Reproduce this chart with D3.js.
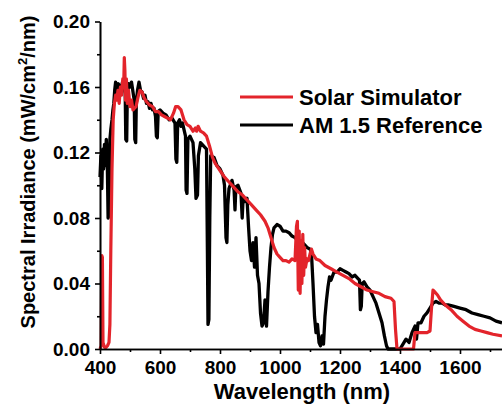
<!DOCTYPE html>
<html>
<head>
<meta charset="utf-8">
<script src="https://cdn.jsdelivr.net/npm/d3@7"></script>
<style>
  body { margin: 0; background: #fff; }
  svg { display: block; font-family: "Liberation Sans", Arial, sans-serif; font-weight: bold; }
</style>
</head>
<body>
<div id="chart"></div>
<script>
// AM 1.5 reference spectrum, [wavelength nm, irradiance mW/cm2/nm]
const amReference = [
  [400, 0.105], [403, 0.118], [406, 0.098], [409, 0.122], [412, 0.110], [415, 0.125],
  [418, 0.112], [421, 0.128], [424, 0.118], [427, 0.080], [430, 0.082], [433, 0.128],
  [436, 0.134], [440, 0.140], [443, 0.146], [446, 0.150], [449, 0.158], [452, 0.163],
  [455, 0.155], [458, 0.160], [461, 0.162], [464, 0.153], [467, 0.161], [470, 0.158],
  [475, 0.163], [480, 0.160], [484, 0.156], [486, 0.128], [489, 0.127], [491, 0.155],
  [495, 0.162], [500, 0.160], [505, 0.163], [510, 0.157], [514, 0.152], [516, 0.128],
  [519, 0.126], [521, 0.150], [525, 0.158], [530, 0.163], [535, 0.158], [540, 0.157],
  [545, 0.153], [550, 0.155], [555, 0.150], [560, 0.151], [565, 0.147], [570, 0.150],
  [575, 0.146], [580, 0.147], [585, 0.142], [588, 0.130], [591, 0.129], [594, 0.145],
  [600, 0.146], [610, 0.144], [620, 0.143], [630, 0.140], [640, 0.141], [650, 0.138],
  [653, 0.116], [656, 0.114], [659, 0.138], [665, 0.140], [670, 0.136], [675, 0.138],
  [680, 0.134], [685, 0.130], [687, 0.097], [690, 0.095], [693, 0.128], [700, 0.130],
  [710, 0.126], [716, 0.110], [720, 0.092], [725, 0.094], [728, 0.118], [735, 0.126],
  [745, 0.124], [755, 0.122], [758, 0.060], [760, 0.015], [763, 0.018], [766, 0.080],
  [769, 0.118], [780, 0.117], [790, 0.112], [800, 0.110], [810, 0.106], [815, 0.100],
  [820, 0.068], [823, 0.065], [826, 0.088], [830, 0.098], [840, 0.103], [847, 0.097],
  [850, 0.085], [853, 0.099], [860, 0.100], [870, 0.095], [874, 0.080], [877, 0.092],
  [882, 0.090], [890, 0.092], [895, 0.075], [900, 0.060],
  [905, 0.054], [910, 0.065], [915, 0.050], [920, 0.068], [925, 0.045], [930, 0.040],
  [935, 0.022], [940, 0.014], [945, 0.016], [950, 0.030], [955, 0.014], [960, 0.035],
  [965, 0.050], [970, 0.062], [975, 0.070], [980, 0.074], [990, 0.076], [1000, 0.075],
  [1010, 0.072], [1020, 0.072], [1030, 0.071], [1040, 0.069], [1050, 0.068], [1060, 0.066],
  [1070, 0.066], [1080, 0.064], [1090, 0.062], [1100, 0.061], [1105, 0.058], [1110, 0.040],
  [1115, 0.020], [1120, 0.010], [1125, 0.015], [1130, 0.004], [1135, 0.002], [1140, 0.008],
  [1145, 0.003], [1150, 0.020], [1155, 0.030], [1160, 0.038], [1165, 0.044], [1170, 0.042],
  [1180, 0.047], [1190, 0.047], [1200, 0.049], [1210, 0.048], [1220, 0.047], [1230, 0.046],
  [1240, 0.044], [1250, 0.045], [1260, 0.043], [1265, 0.042], [1268, 0.024], [1271, 0.026],
  [1274, 0.040], [1280, 0.041], [1290, 0.038], [1300, 0.036], [1310, 0.032], [1320, 0.028],
  [1330, 0.022], [1340, 0.016], [1348, 0.008], [1355, 0.002], [1360, 0.0], [1380, 0.0],
  [1400, 0.0], [1410, 0.003], [1420, 0.006], [1430, 0.004], [1440, 0.010], [1450, 0.014],
  [1455, 0.006], [1460, 0.016], [1470, 0.016], [1480, 0.020], [1490, 0.022], [1500, 0.025],
  [1510, 0.028], [1520, 0.029], [1530, 0.028], [1540, 0.028], [1550, 0.027], [1560, 0.027],
  [1580, 0.026], [1600, 0.025], [1620, 0.024], [1640, 0.022], [1660, 0.021], [1680, 0.020],
  [1700, 0.019], [1720, 0.017], [1740, 0.016]
];

// Solar simulator spectrum
const solarSimulator = [
  [400, 0.0], [404, 0.002], [406, 0.057], [408, 0.056], [410, 0.004], [415, 0.001],
  [420, 0.001], [425, 0.002], [430, 0.004], [433, 0.015], [436, 0.060], [440, 0.110],
  [444, 0.140], [448, 0.150], [452, 0.155], [456, 0.152], [460, 0.158], [464, 0.150],
  [468, 0.160], [472, 0.155], [476, 0.165], [479, 0.160], [481, 0.178], [483, 0.170],
  [485, 0.152], [488, 0.165], [491, 0.150], [495, 0.158], [500, 0.148], [505, 0.152],
  [510, 0.146], [515, 0.147], [520, 0.148], [527, 0.154], [533, 0.158], [540, 0.157],
  [548, 0.153], [555, 0.151], [565, 0.149], [575, 0.148], [585, 0.145], [595, 0.145],
  [605, 0.143], [615, 0.142], [625, 0.141], [635, 0.140], [645, 0.144], [652, 0.148],
  [660, 0.148], [670, 0.146], [680, 0.140], [690, 0.137], [700, 0.136], [710, 0.133],
  [718, 0.135], [722, 0.133], [727, 0.136], [735, 0.133], [745, 0.132], [755, 0.130],
  [765, 0.124], [775, 0.117], [785, 0.113], [800, 0.109], [815, 0.105], [830, 0.102],
  [845, 0.099], [860, 0.096], [875, 0.094], [890, 0.091], [905, 0.088], [920, 0.085],
  [935, 0.082], [950, 0.078], [960, 0.074], [970, 0.068], [980, 0.062], [990, 0.058],
  [1000, 0.056], [1010, 0.054], [1020, 0.054], [1030, 0.053], [1040, 0.055], [1050, 0.054],
  [1055, 0.075], [1058, 0.078], [1061, 0.036], [1064, 0.072], [1067, 0.034], [1070, 0.066],
  [1073, 0.040], [1076, 0.070], [1079, 0.045], [1082, 0.062], [1085, 0.050], [1090, 0.055],
  [1095, 0.054], [1100, 0.058], [1105, 0.061], [1110, 0.058], [1120, 0.055], [1133, 0.054],
  [1150, 0.051], [1170, 0.049], [1190, 0.047], [1210, 0.045], [1230, 0.043], [1250, 0.040],
  [1270, 0.038], [1290, 0.036], [1310, 0.035], [1330, 0.034], [1350, 0.032], [1370, 0.031],
  [1380, 0.029], [1385, 0.012], [1390, 0.0], [1400, 0.0], [1420, 0.0], [1445, 0.0],
  [1450, 0.010], [1470, 0.010], [1490, 0.010], [1500, 0.011], [1505, 0.025], [1510, 0.036],
  [1515, 0.035], [1525, 0.033], [1535, 0.030], [1550, 0.027], [1570, 0.024], [1590, 0.020],
  [1610, 0.017], [1630, 0.014], [1650, 0.012], [1670, 0.011], [1690, 0.010], [1710, 0.009],
  [1740, 0.008]
];

// Tick values
const xMajorTicks = [400, 600, 800, 1000, 1200, 1400, 1600];
const xMinorTicks = [500, 700, 900, 1100, 1300, 1500, 1700];
const yMajorTicks = [0, 0.04, 0.08, 0.12, 0.16, 0.20];
const yMinorTicks = [0.02, 0.06, 0.10, 0.14, 0.18];

const seriesNames = ["Solar Simulator", "AM 1.5 Reference"];
const seriesColors = ["#e3242b", "#000000"];

const width = 502, height = 407;

const svg = d3.select("#chart").append("svg")
  .attr("width", width)
  .attr("height", height);

// Scales (plot is cropped on the right edge)
const x = d3.scaleLinear().domain([400, 1740]).range([100, 502]);
const y = d3.scaleLinear().domain([0, 0.2]).range([349, 21.5]);

const line = d3.line()
  .x(d => x(d[0]))
  .y(d => y(d[1]));

// Spectra: reference underneath, simulator on top
svg.append("path")
  .datum(amReference)
  .attr("fill", "none")
  .attr("stroke", seriesColors[1])
  .attr("stroke-width", 3.3)
  .attr("stroke-linejoin", "round")
  .attr("d", line);

svg.append("path")
  .datum(solarSimulator)
  .attr("fill", "none")
  .attr("stroke", seriesColors[0])
  .attr("stroke-width", 3.2)
  .attr("stroke-linejoin", "round")
  .attr("d", line);

// Axes
const yAxis = svg.append("g")
  .attr("transform", "translate(100,0)")
  .call(d3.axisLeft(y).tickValues(yMajorTicks).tickFormat(d3.format(".2f")).tickSize(5).tickSizeOuter(0));
svg.append("g")
  .attr("transform", "translate(100,0)")
  .call(d3.axisLeft(y).tickValues(yMinorTicks).tickFormat("").tickSize(3).tickSizeOuter(0));

const xAxis = svg.append("g")
  .attr("transform", "translate(0,349)")
  .call(d3.axisBottom(x).tickValues(xMajorTicks).tickFormat(d3.format("d")).tickSize(5).tickSizeOuter(0));
svg.append("g")
  .attr("transform", "translate(0,349)")
  .call(d3.axisBottom(x).tickValues(xMinorTicks).tickFormat("").tickSize(3).tickSizeOuter(0));

svg.selectAll(".domain, .tick line")
  .attr("stroke", "#000")
  .attr("stroke-width", 1.6);

yAxis.selectAll("text")
  .attr("font-size", 19)
  .attr("font-weight", "bold")
  .attr("font-family", "Liberation Sans, Arial, sans-serif")
  .attr("fill", "#000")
  .attr("x", -10);

xAxis.selectAll("text")
  .attr("font-size", 19)
  .attr("font-weight", "bold")
  .attr("font-family", "Liberation Sans, Arial, sans-serif")
  .attr("fill", "#000")
  .attr("y", 12);

// Axis titles
svg.append("text")
  .attr("x", 302)
  .attr("y", 399)
  .attr("text-anchor", "middle")
  .attr("font-size", 22)
  .text("Wavelength (nm)");

const yTitle = svg.append("text")
  .attr("transform", "translate(35,172) rotate(-90)")
  .attr("text-anchor", "middle")
  .attr("font-size", 20);
yTitle.append("tspan").text("Spectral Irradiance (mW/cm");
yTitle.append("tspan").attr("font-size", 13).attr("dy", -8).text("2");
yTitle.append("tspan").attr("dy", 8).text("/nm)");

// Legend
const legend = svg.selectAll(".legend")
  .data(seriesNames)
  .enter().append("g")
  .attr("class", "legend")
  .attr("transform", (d, i) => `translate(240, ${97 + i * 28})`);

legend.append("line")
  .attr("x1", 0)
  .attr("x2", 53)
  .attr("stroke", (d, i) => seriesColors[i])
  .attr("stroke-width", 3.2);

legend.append("text")
  .attr("x", 59)
  .attr("dy", "0.36em")
  .attr("font-size", 22)
  .text(d => d);
</script>
</body>
</html>
